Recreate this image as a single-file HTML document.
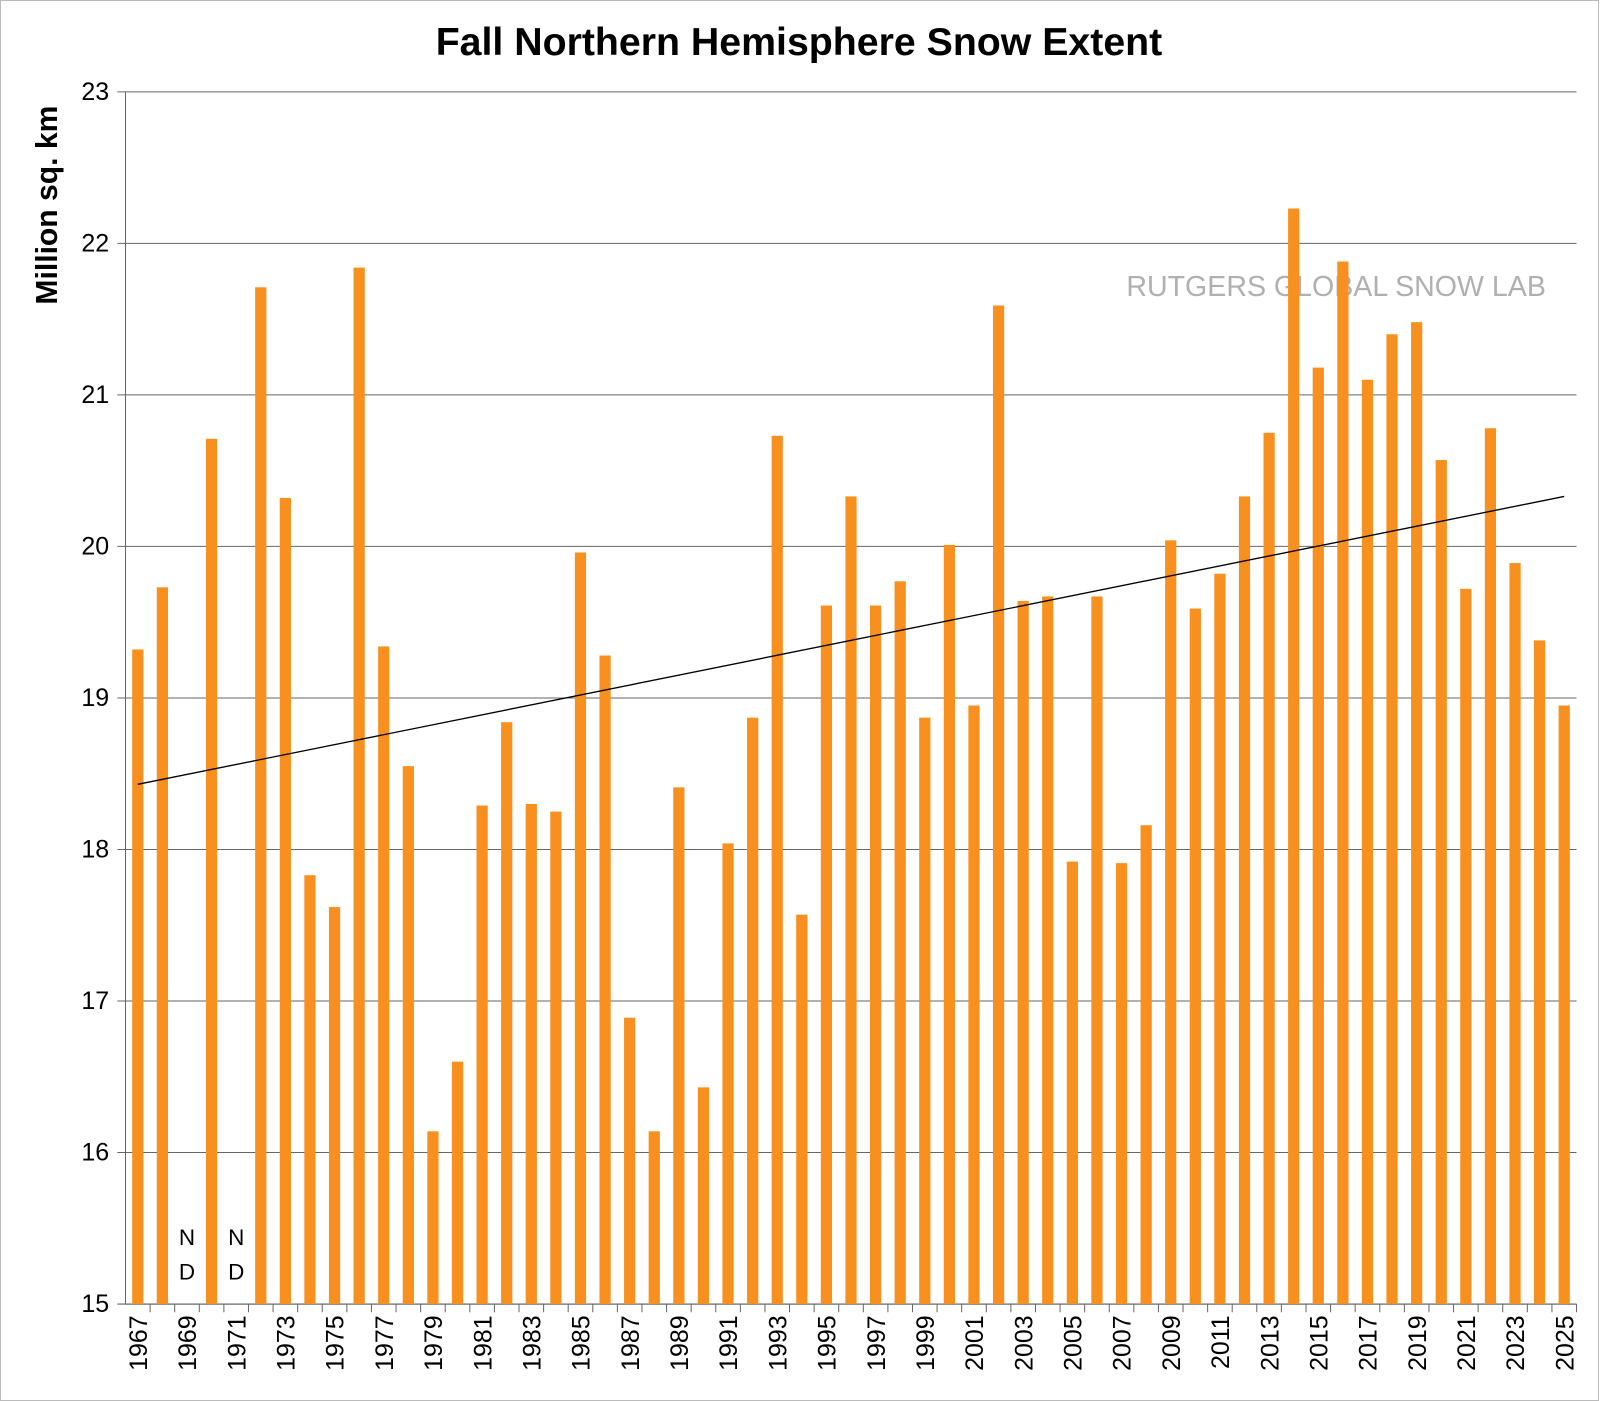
<!DOCTYPE html>
<html><head><meta charset="utf-8"><style>
html,body{margin:0;padding:0;background:#fff;}
svg{display:block;font-family:"Liberation Sans",Arial,sans-serif;}
</style></head><body>
<svg id="chart" width="1600" height="1401" viewBox="0 0 1600 1401">
<rect x="0.5" y="0.5" width="1598" height="1400" fill="#fff" stroke="#bbb"/>
<g transform="scale(1.0204)">
<text x="783" y="54" text-anchor="middle" font-size="38.5" font-weight="bold">Fall Northern Hemisphere Snow Extent</text>
<text transform="translate(56,201) rotate(-90)" text-anchor="middle" font-size="29.5" font-weight="bold">Million sq. km</text>
<text x="1515" y="290" text-anchor="end" font-size="28" fill="#b0b0b0">RUTGERS GLOBAL SNOW LAB</text>
<g id="grid"></g><g id="bars"></g><g id="labels"></g>
</g>
</svg>
<script>
const years=[];for(let y=1967;y<=2025;y++)years.push(y);
const values=[19.32,19.73,null,20.71,null,21.71,20.32,17.83,17.62,21.84,19.34,18.55,16.14,16.60,18.29,18.84,18.30,18.25,19.96,19.28,16.89,16.14,18.41,16.43,18.04,18.87,20.73,17.57,19.61,20.33,19.61,19.77,18.87,20.01,18.95,21.59,19.64,19.67,17.92,19.67,17.91,18.16,20.04,19.59,19.82,20.33,20.75,22.23,21.18,21.88,21.10,21.40,21.48,20.57,19.72,20.78,19.89,19.38,18.95];
const yTicks=[15,16,17,18,19,20,21,22,23];
const trend=[18.43,20.33];
const NS='http://www.w3.org/2000/svg';
const L=123,R=1545,T=90,B=1278,yMin=15,yMax=23;
const bw=(R-L)/years.length;
const x=i=>L+(i+0.5)*bw;
const y=v=>B-(v-yMin)/(yMax-yMin)*(B-T);
function mk(tag,attrs,parent){const e=document.createElementNS(NS,tag);for(const k in attrs)e.setAttribute(k,attrs[k]);parent.appendChild(e);return e;}
const grid=document.getElementById('grid'),bars=document.getElementById('bars'),labels=document.getElementById('labels');
yTicks.forEach(t=>{
 const g=mk('line',{x1:L-8,x2:R,y1:y(t),y2:y(t),stroke:'#666','stroke-width':1},grid);
 
 
 const tx=mk('text',{x:L-16,y:y(t)+8,'text-anchor':'end','font-size':24.5},labels);
 tx.textContent=t;
 
 
});
const ax=mk('line',{x1:L,x2:L,y1:T,y2:B,stroke:'#666'},grid);


years.forEach((yr,i)=>{
 const tk=mk('line',{x1:L+(i+1)*bw,x2:L+(i+1)*bw,y1:B,y2:B+8,stroke:'#666'},grid);
 
 
 if(i%2===0){
  const t=mk('text',{transform:`translate(${x(i)+9},${B+11}) rotate(-90)`,'text-anchor':'end','font-size':24.5},labels);
  t.textContent=yr;
  
  
 }
 const v=values[i];
 if(v==null){
  ['N','D'].forEach((c,j)=>{const t=mk('text',{x:x(i),y:1220+j*34,'text-anchor':'middle','font-size':22},labels);t.textContent=c;
  
  });
  return;
 }
 const r=mk('rect',{x:x(i)-5.5,width:11,y:y(v),height:B-y(v),fill:'#f7901e'},bars);
 
 
});
const tl=mk('line',{x1:x(0),x2:x(years.length-1),y1:y(trend[0]),y2:y(trend[1]),stroke:'#000','stroke-width':1.3},bars);


const bx=mk('line',{x1:L,x2:R,y1:B,y2:B,stroke:'#666'},grid);


</script>
</body></html>
